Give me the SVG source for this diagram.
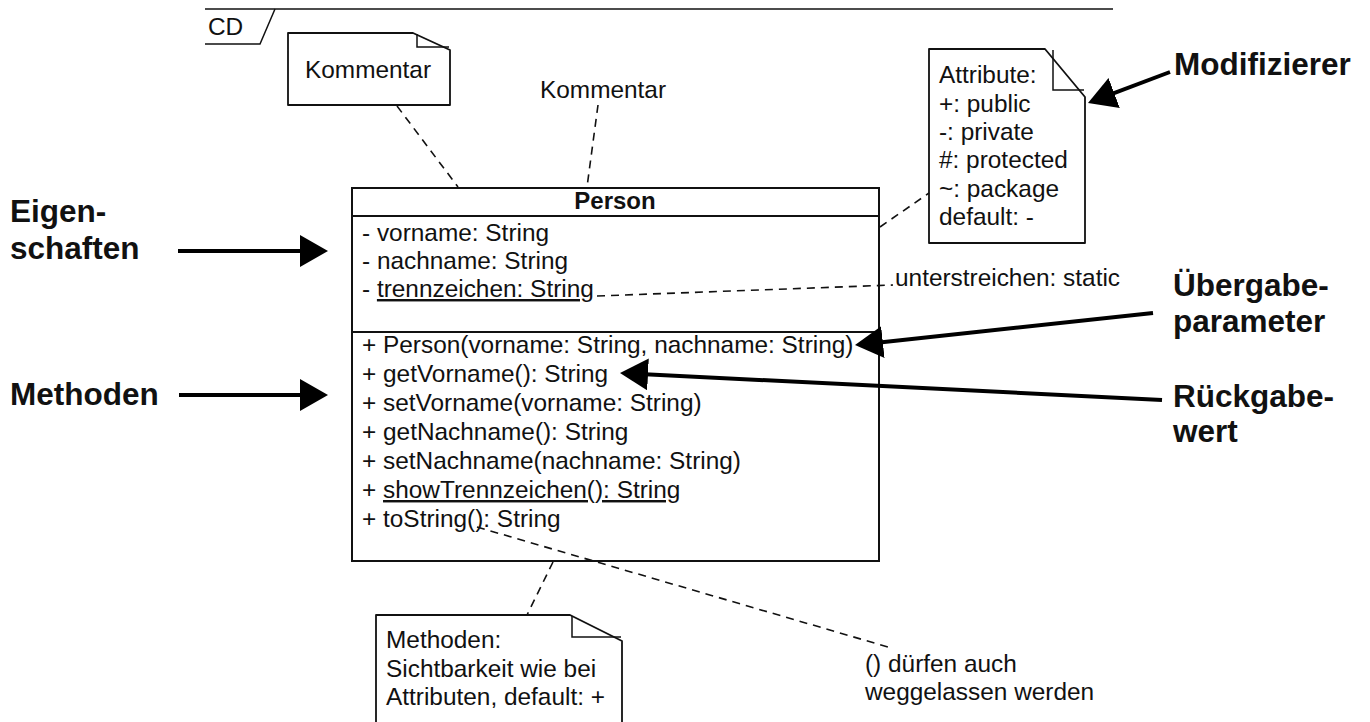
<svg xmlns="http://www.w3.org/2000/svg" width="1370" height="722" viewBox="0 0 1370 722">
<defs>
<style>
text{font-family:"Liberation Sans",Arial,sans-serif;fill:#111}
.t{font-size:24.4px}
.b{font-size:31.5px;font-weight:bold}
.hb{font-size:24px;font-weight:bold}
.box{fill:#fff;stroke:#111;stroke-width:2}
.note{fill:#fff;stroke:#111;stroke-width:1.8;stroke-linejoin:round}
.fold{fill:none;stroke:#111;stroke-width:1.5}
.dash{fill:none;stroke:#111;stroke-width:1.6;stroke-dasharray:8 6}
.arr{fill:none;stroke:#000;stroke-width:4;marker-end:url(#ah)}
.u{text-decoration:underline}
</style>
<marker id="ah" markerUnits="userSpaceOnUse" markerWidth="28" markerHeight="32" refX="8" refY="16" orient="auto">
<path d="M0,0 L28,16 L0,32 Z" fill="#000"/>
</marker>
</defs>
<rect width="1370" height="722" fill="#fff"/>

<g id="frame">
<line x1="205" y1="9" x2="1113" y2="9" stroke="#111" stroke-width="1.5"/>
<polyline points="205,44 260,44 275,9" fill="none" stroke="#111" stroke-width="1.5"/>
<text class="t" x="208" y="35">CD</text>
</g>

<g id="note-kommentar">
<path class="note" d="M288,33 H413 L450,50 V105 H288 Z"/>
<path class="fold" d="M417,34 V47 H449"/>
<text class="t" x="305" y="78">Kommentar</text>
</g>

<g id="label-kommentar">
<text class="t" x="540" y="98">Kommentar</text>
</g>

<g id="class-person">
<rect class="box" x="352" y="188" width="527" height="373"/>
<line x1="352" y1="216" x2="879" y2="216" stroke="#111" stroke-width="2"/>
<line x1="352" y1="332" x2="879" y2="332" stroke="#111" stroke-width="2"/>
<text class="hb" x="615" y="209" text-anchor="middle">Person</text>
<text class="t" x="362" y="241">- vorname: String</text>
<text class="t" x="362" y="269">- nachname: String</text>
<text class="t" x="362" y="297">- <tspan class="u">trennzeichen: String</tspan></text>
<text class="t" x="362" y="353">+ Person(vorname: String, nachname: String)</text>
<text class="t" x="362" y="382">+ getVorname(): String</text>
<text class="t" x="362" y="411">+ setVorname(vorname: String)</text>
<text class="t" x="362" y="440">+ getNachname(): String</text>
<text class="t" x="362" y="469">+ setNachname(nachname: String)</text>
<text class="t" x="362" y="498">+ <tspan class="u">showTrennzeichen(): String</tspan></text>
<text class="t" x="362" y="527">+ toString(): String</text>
</g>

<g id="note-attribute">
<path class="note" d="M929,49 H1045 L1085,97 V243 H929 Z"/>
<path class="fold" d="M1053,50 V90 H1084"/>
<text class="t" x="939" y="83">Attribute:</text>
<text class="t" x="939" y="112">+: public</text>
<text class="t" x="939" y="140">-: private</text>
<text class="t" x="939" y="168">#: protected</text>
<text class="t" x="939" y="197">~: package</text>
<text class="t" x="939" y="225">default: -</text>
</g>

<g id="label-static">
<text class="t" x="895" y="286">unterstreichen: static</text>
</g>

<g id="note-methoden">
<path class="note" d="M376,615 H570 L622,641 V735 H376 Z"/>
<path class="fold" d="M572,616 V637 H621"/>
<text class="t" x="386" y="648">Methoden:</text>
<text class="t" x="386" y="677">Sichtbarkeit wie bei</text>
<text class="t" x="386" y="705">Attributen, default: +</text>
</g>

<g id="label-klammern">
<text class="t" x="865" y="672">() dürfen auch</text>
<text class="t" x="865" y="700">weggelassen werden</text>
</g>

<g id="label-eigenschaften">
<text class="b" x="10" y="222">Eigen-</text>
<text class="b" x="10" y="259">schaften</text>
</g>
<g id="label-methoden">
<text class="b" x="10" y="405">Methoden</text>
</g>
<g id="label-modifizierer">
<text class="b" x="1174" y="75">Modifizierer</text>
</g>
<g id="label-uebergabe">
<text class="b" x="1173" y="296">Übergabe-</text>
<text class="b" x="1173" y="332">parameter</text>
</g>
<g id="label-rueckgabe">
<text class="b" x="1173" y="407">Rückgabe-</text>
<text class="b" x="1173" y="442">wert</text>
</g>

<g id="connectors">
<line class="dash" x1="397" y1="106" x2="458" y2="187"/>
<line class="dash" x1="598" y1="105" x2="587" y2="187"/>
<line class="dash" x1="880" y1="227" x2="929" y2="193"/>
<line class="dash" x1="597" y1="296" x2="893" y2="285"/>
<line class="dash" x1="553" y1="562" x2="527" y2="615"/>
<line class="dash" x1="477" y1="527" x2="888" y2="647"/>
<line class="arr" x1="178" y1="251" x2="308" y2="251"/>
<line class="arr" x1="179" y1="395" x2="308" y2="395"/>
<line class="arr" x1="1170" y1="72" x2="1106.7" y2="95.9"/>
<line class="arr" x1="1153" y1="313" x2="874.9" y2="342.9"/>
<line class="arr" x1="1162" y1="400" x2="640" y2="374"/>
</g>
</svg>
